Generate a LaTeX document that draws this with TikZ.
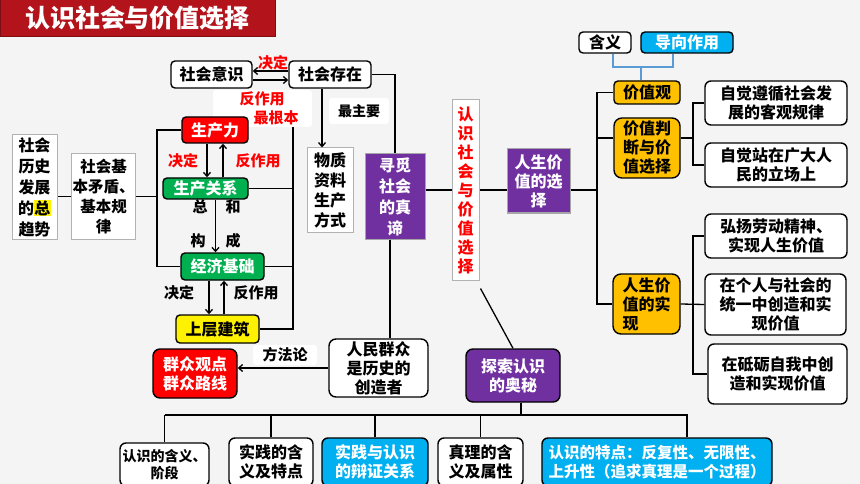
\documentclass[tikz,border=0pt]{standalone}
\usepackage{fontspec}
\setmainfont{Noto Sans CJK SC}
\usetikzlibrary{arrows.meta}
\definecolor{titlered}{HTML}{B3141C}
\definecolor{zise}{HTML}{7030A0}
\definecolor{qianlan}{HTML}{00B0F0}
\definecolor{jinhuang}{HTML}{FFC000}
\definecolor{lvse}{HTML}{00B050}
\definecolor{lanxian}{HTML}{5B9BD5}
\definecolor{beijing}{HTML}{F4F4F4}
\newcommand\hl[1]{{\setlength{\fboxsep}{0.5pt}\colorbox{yellow}{#1}}}

\begin{document}
\begin{tikzpicture}[x=1pt,y=-1pt,
  nodes={font=\bfseries\fontsize{16}{19}\selectfont,align=center,inner sep=1pt},
  rbox/.style 2 args={draw,rounded corners=4pt,line width=1.4pt,fill=white,minimum width=#1,minimum height=#2},
  sbox/.style 2 args={draw=gray!60,line width=1pt,fill=white,minimum width=#1,minimum height=#2},
  pbox/.style 2 args={draw=gray!70,line width=1pt,fill=zise,text=white,minimum width=#1,minimum height=#2,font=\bfseries\fontsize{16}{21}\selectfont},
  lab/.style={font=\bfseries\fontsize{15}{17}\selectfont},
  xian/.style={line width=1.3pt},
  jt/.style={xian,-{Straight Barb[length=4pt,width=7pt]}}]
\useasboundingbox (0,0) rectangle (860,484);
\clip (0,0) rectangle (860,484);
\fill[beijing] (0,0) rectangle (860,484);
\fill[white,rounded corners=3pt] (213,90) rectangle (312,127);

\node[fill=titlered,draw=titlered!70!black,line width=1pt,minimum width=275pt,minimum height=37pt,text=white,font=\bfseries\fontsize{25}{25}\selectfont] (biaoti) at (137.5,18.5) {认识社会与价值选择};

\node[rbox={81pt}{27pt}] (yishi) at (211.5,74.5) {社会意识};
\node[rbox={82pt}{27pt}] (cunzai) at (330,74.5) {社会存在};
\node[rbox={66pt}{26pt},fill=red,text=white] (scl) at (215,130) {生产力};
\node[rbox={85pt}{21pt},fill=lvse,text=white] (scgx) at (205.5,188.5) {生产关系};
\node[rbox={83pt}{27pt},fill=lvse,text=white] (jjjc) at (222.5,266.5) {经济基础};
\node[rbox={83pt}{28pt},fill=yellow] (sccz) at (217.5,329) {上层建筑};
\node[sbox={45pt}{104pt},font=\bfseries\fontsize{16}{21}\selectfont] (qushi) at (34.5,187) {社会\\历史\\发展\\的\hl{总}\\趋势};
\node[sbox={63pt}{85pt},font=\bfseries\fontsize{15.5}{20}\selectfont] (maodun) at (103.5,196.5) {社会基\\本矛盾、\\基本规\\律};
\node[sbox={46pt}{84pt},font=\bfseries\fontsize{16}{20}\selectfont] (wuzhi) at (330,190) {物质\\资料\\生产\\方式};
\node[pbox={60pt}{85pt}] (zhendi) at (395,196.5) {寻觅\\社会\\的真\\谛};
\node[sbox={27pt}{180pt},text=red] (zongti) at (465.5,190) {认\\识\\社\\会\\与\\价\\值\\选\\择};
\node[pbox={63pt}{64pt},font=\bfseries\fontsize{16}{19}\selectfont] (xuanze) at (538.5,181) {人生价\\值的选\\择};

\node[rbox={52pt}{21pt}] (hanyi) at (605,42.5) {含义};
\node[rbox={92pt}{21pt},fill=qianlan,text=white] (daoxiang) at (687,42.5) {导向作用};
\node[rbox={66pt}{23pt},fill=jinhuang] (jzg) at (647,92.5) {价值观};
\node[rbox={66pt}{60pt},fill=jinhuang,rounded corners=8pt] (pdxz) at (647,148) {价值判\\断与价\\值选择};
\node[rbox={67pt}{60pt},fill=jinhuang,rounded corners=8pt,align=left] (shixian) at (646.5,304) {人生价\\值的实\\现};
\node[rbox={142pt}{44pt},rounded corners=6pt] (zunxun) at (776,103) {自觉遵循社会发\\展的客观规律};
\node[rbox={142pt}{44pt},rounded corners=6pt] (lichang) at (776,165) {自觉站在广大人\\民的立场上};
\node[rbox={142pt}{44pt},rounded corners=6pt] (hongyang) at (776,236) {弘扬劳动精神、\\实现人生价值};
\node[rbox={141pt}{61pt},rounded corners=6pt] (tongyi) at (775.5,304.5) {在个人与社会的\\统一中创造和实\\现价值};
\node[rbox={139pt}{60pt},rounded corners=6pt] (dili) at (777.5,374) {在砥砺自我中创\\造和实现价值};

\node[rbox={99pt}{58pt},rounded corners=7pt] (qunzhong) at (378.5,368) {人民群众\\是历史的\\创造者};
\node[rbox={84pt}{49pt},fill=red,text=white,rounded corners=7pt] (luxian) at (195,373.5) {群众观点\\群众路线};
\node[rbox={94pt}{53pt},fill=zise,text=white,rounded corners=7pt] (aomi) at (513,375.5) {探索认识\\的奥秘};

\node[rbox={89pt}{43pt},rounded corners=6pt,font=\bfseries\fontsize{14}{17}\selectfont] (b1) at (164.5,464.5) {认识的含义、\\阶段};
\node[rbox={84pt}{48pt},rounded corners=6pt] (b2) at (271,462) {实践的含\\义及特点};
\node[rbox={106pt}{48pt},rounded corners=6pt,fill=qianlan,text=white] (b3) at (375,462) {实践与认识\\的辩证关系};
\node[rbox={85pt}{48pt},rounded corners=6pt] (b4) at (480.5,462) {真理的含\\义及属性};
\node[rbox={230pt}{48pt},rounded corners=6pt,fill=qianlan,text=white,align=left,font=\bfseries\fontsize{15.5}{19}\selectfont] (b5) at (657,462) {认识的特点：反复性、无限性、\\上升性（追求真理是一个过程）};

\node[lab,text=red] (jd1) at (273,63) {决定};
\node[lab,text=red] (fzy1) at (262,99) {反作用};
\node[lab,text=red] (zgb) at (276,118) {最根本};
\node[lab,text=red] (jd2) at (183,161) {决定};
\node[lab,text=red] (fzy2) at (258,161) {反作用};
\node[lab] (zong) at (200,207) {总};
\node[lab] (he) at (233,207) {和};
\node[lab] (gou) at (198,241) {构};
\node[lab] (cheng) at (233,241) {成};
\node[lab] (jd3) at (179,293) {决定};
\node[lab] (fzy3) at (256,293) {反作用};
\node[lab,fill=white,rounded corners=3pt,minimum width=60pt,minimum height=26pt,font=\bfseries\fontsize{14}{17}\selectfont] (zzy) at (359,111) {最主要};
\node[lab,fill=white,rounded corners=3pt,minimum width=64pt,minimum height=20pt] (ffl) at (285,355) {方法论};

\coordinate (rbt) at (293,127);
\coordinate (lb) at (157,190);
\coordinate (mb) at (597,190);
\coordinate (rb1) at (693,138);
\coordinate (rb2) at (693,304);
\coordinate (jbar) at (641,67);
\coordinate (busL) at (164.5,415);

\draw[jt] ([yshift=3.5pt]cunzai.west) -- ([yshift=3.5pt]yishi.east);
\draw[jt] ([yshift=-5.5pt]yishi.east) -- ([yshift=-5.5pt]cunzai.west);
\draw[jt] ([xshift=-8pt]scl.south) -- ([xshift=-8pt]scl.south |- scgx.north);
\draw[jt] ([xshift=8pt]scl.south |- scgx.north) -- ([xshift=8pt]scl.south);
\draw[jt] ([xshift=10pt]scgx.south) -- ([xshift=10pt]scgx.south |- jjjc.north);
\draw[jt] ([xshift=-8.5pt]sccz.north |- jjjc.south) -- ([xshift=-8.5pt]sccz.north);
\draw[jt] ([xshift=6.5pt]sccz.north) -- ([xshift=6.5pt]sccz.north |- jjjc.south);
\draw[jt] ([xshift=-8pt]cunzai.south) -- ([xshift=-8pt]cunzai.south |- wuzhi.north);
\draw[jt] (qunzhong.west) -- (qunzhong.west -| luxian.east);

\draw[xian] (rbt) |- (sccz.east);
\draw[xian] (scgx.east) -- (scgx.east -| rbt);
\draw[xian] (jjjc.east) -- (jjjc.east -| rbt);
\draw[xian] (scl.west) -| (lb) |- (jjjc.west);
\draw[xian] (maodun.east) -- (maodun.east -| lb);
\draw[xian] (maodun.west) -- (maodun.west -| qushi.east);
\draw[xian] (cunzai.east) -| (zhendi.north);
\draw[xian] (zhendi.east |- zongti.west) -- (zongti.west);
\draw[xian] (zongti.east) -- (zongti.east -| xuanze.west);
\draw[xian] (xuanze.east |- mb) -- (mb);
\draw[xian] (jzg.west) -| (mb) |- (shixian.west);
\draw[xian] ([yshift=10pt]pdxz.west) -- ([yshift=10pt]pdxz.west -| mb);
\draw[xian] ([yshift=10pt]pdxz.east) -- (rb1);
\draw[xian] (zunxun.west) -| (rb1) |- (lichang.west);
\draw[xian] (shixian.east) -- (tongyi.west);
\draw[xian] (hongyang.west) -| (rb2) |- (dili.west);
\draw[lanxian,line width=1.5pt] ([xshift=8pt]hanyi.south) |- (jbar) -| ([xshift=-14pt]daoxiang.south);
\draw[lanxian,line width=1.5pt] (jbar) -- (jbar |- jzg.north);
\draw[xian] ([xshift=-5pt]zhendi.south) -- ([xshift=-5pt]zhendi.south |- qunzhong.north);
\draw[xian] ([shift={(1pt,-8pt)}]zongti.south east) -- (aomi.north);
\draw[xian] ([xshift=8pt]aomi.south) -- ([xshift=8pt]aomi.south |- busL);
\draw[xian] (busL) -- ([xshift=30pt]b5.north |- busL) -- ([xshift=30pt]b5.north);
\foreach \n in {b1,b2,b3,b4}
  \draw[xian] (\n.north |- busL) -- (\n.north);
\end{tikzpicture}
\end{document}
